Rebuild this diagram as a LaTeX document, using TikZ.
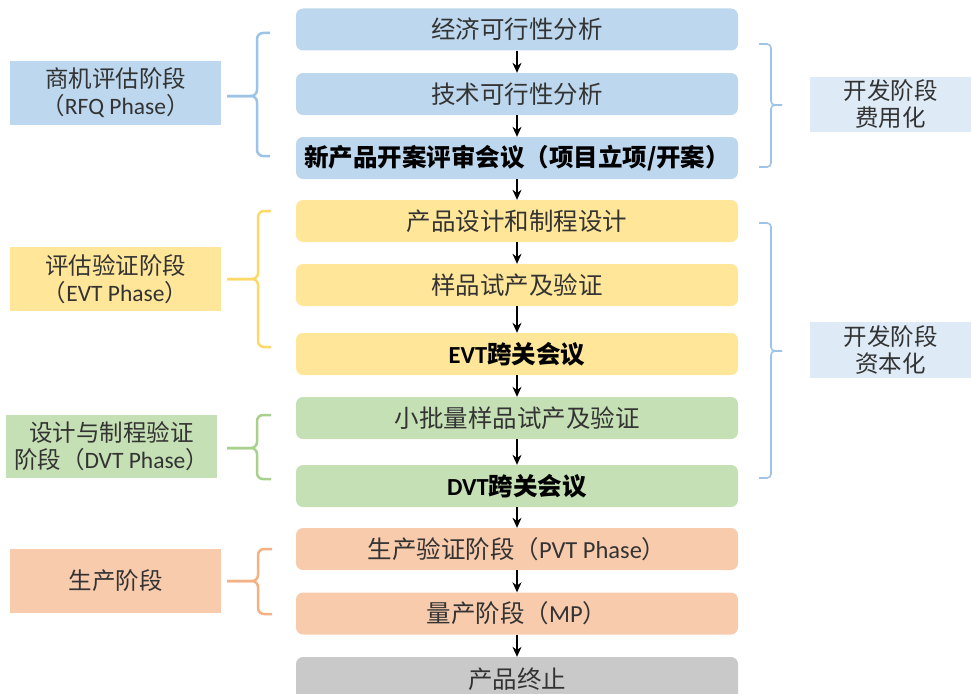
\documentclass[tikz,border=0pt]{standalone}
\usepackage{fontspec}
\setmainfont{Carlito}
\newfontfamily\cjk{Noto Sans CJK SC}
\usetikzlibrary{arrows.meta}
\definecolor{bluebox}{HTML}{BDD7EE}
\definecolor{yellowbox}{HTML}{FFE699}
\definecolor{greenbox}{HTML}{C5E0B4}
\definecolor{orangebox}{HTML}{F8CBAD}
\definecolor{graybox}{HTML}{C9C9C9}
\definecolor{paleblue}{HTML}{DEEBF7}
\definecolor{bluebr}{HTML}{9DC3E6}
\definecolor{yellowbr}{HTML}{FFD966}
\definecolor{greenbr}{HTML}{A9D18E}
\definecolor{orangebr}{HTML}{F4B183}
\definecolor{txt}{HTML}{333333}
\newcommand{\zh}[1]{{\cjk #1}}
\tikzset{
  mainbox/.style={rounded corners=7pt, minimum width=442pt, minimum height=42pt,
    inner sep=0pt, text=txt, font=\fontsize{24.5}{28}\selectfont},
  meetbox/.style={mainbox, text=black, font=\fontsize{24.5}{28}\selectfont\bfseries},
  lblbox/.style={minimum width=211pt, minimum height=64pt, inner sep=0pt,
    align=center, text=txt, font=\fontsize{23.5}{27}\selectfont},
  rlbl/.style={minimum width=161pt, inner sep=0pt,
    align=center, fill=paleblue, text=txt, font=\fontsize{23.5}{27}\selectfont},
  arr/.style={-{Stealth[length=10pt,width=9pt]}, line width=1.2pt, black},
  lbr/.style={line width=2.5pt, rounded corners=6pt},
  rbr/.style={line width=1.6pt, rounded corners=4pt, bluebr},
}
\begin{document}
\begin{tikzpicture}[x=1pt,y=-1pt]
\useasboundingbox (0,0) rectangle (971,693);
\clip (0,0) rectangle (971,693);
% main column
\node[mainbox, fill=bluebox] (n1) at (517,29.5) {\zh{经济可行性分析}};
\node[mainbox, fill=bluebox] (n2) at (517,94) {\zh{技术可行性分析}};
\node[meetbox, fill=bluebox] (n3) at (517,158) {\zh{新产品开案评审会议（项目立项/开案）}};
\node[mainbox, fill=yellowbox] (n4) at (517,221) {\zh{产品设计和制程设计}};
\node[mainbox, fill=yellowbox] (n5) at (517,285) {\zh{样品试产及验证}};
\node[meetbox, fill=yellowbox] (n6) at (517,354) {EVT\zh{跨关会议}};
\node[mainbox, fill=greenbox] (n7) at (517,418) {\zh{小批量样品试产及验证}};
\node[meetbox, fill=greenbox] (n8) at (517,486) {DVT\zh{跨关会议}};
\node[mainbox, fill=orangebox] (n9) at (517,549) {\zh{生产验证阶段（}PVT Phase\zh{）}};
\node[mainbox, fill=orangebox] (n10) at (517,613.5) {\zh{量产阶段（}MP\zh{）}};
\node[mainbox, fill=graybox, minimum height=44pt] (n11) at (517,679) {\zh{产品终止}};
\foreach \a/\b in {n1/n2,n2/n3,n3/n4,n4/n5,n5/n6,n6/n7,n7/n8,n8/n9,n9/n10,n10/n11}
  \draw[arr] (\a.south) -- (\b.north);
% left labels
\node[lblbox, fill=bluebox] (l1) at (115.5,93) {\zh{商机评估阶段}\\\zh{（}RFQ Phase\zh{）}};
\node[lblbox, fill=yellowbox] (l2) at (115.5,279) {\zh{评估验证阶段}\\\zh{（}EVT Phase\zh{）}};
\node[lblbox, fill=greenbox, minimum height=63pt] (l3) at (111.5,446.5) {\zh{设计与制程验证}\\\zh{阶段（}DVT Phase\zh{）}};
\node[lblbox, fill=orangebox] (l4) at (115.5,580.5) {\zh{生产阶段}};
% right labels
\node[rlbl, minimum height=55pt] (r1) at (890.5,104.5) {\zh{开发阶段}\\\zh{费用化}};
\node[rlbl, minimum height=56pt] (r2) at (890.5,350) {\zh{开发阶段}\\\zh{资本化}};
% left braces
\draw[lbr, bluebr] (270,33) -- (257,33) -- (257,96) -- (227,96);
\draw[lbr, bluebr] (270,156) -- (257,156) -- (257,96) -- (227,96);
\draw[lbr, yellowbr] (271,211) -- (258,211) -- (258,279) -- (227,279);
\draw[lbr, yellowbr] (271,347) -- (258,347) -- (258,279) -- (227,279);
\draw[lbr, greenbr] (271,415) -- (257,415) -- (257,448) -- (227,448);
\draw[lbr, greenbr] (271,479) -- (257,479) -- (257,448) -- (227,448);
\draw[lbr, orangebr] (272,549) -- (258,549) -- (258,581) -- (227,581);
\draw[lbr, orangebr] (272,614) -- (258,614) -- (258,581) -- (227,581);
% right braces
\draw[rbr] (759,44) -- (771,44) -- (771,105) -- (782,105);
\draw[rbr] (759,167) -- (771,167) -- (771,105) -- (782,105);
\draw[rbr] (759,223) -- (771,223) -- (771,351) -- (782,351);
\draw[rbr] (759,478) -- (771,478) -- (771,351) -- (782,351);
\end{tikzpicture}
\end{document}
